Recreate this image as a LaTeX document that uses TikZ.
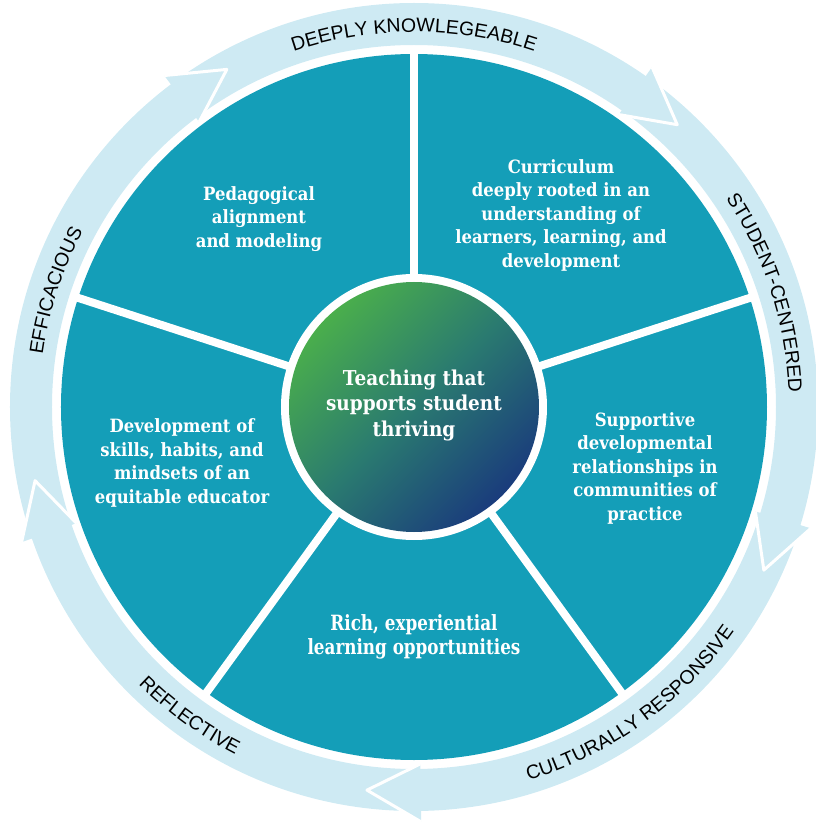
\documentclass[tikz,border=0pt]{standalone}
\usepackage{fontspec}
\usetikzlibrary{decorations.text}
\newfontfamily\segfont[FakeStretch=0.9]{DejaVu Serif}
\newfontfamily\richfont[FakeStretch=0.8]{DejaVu Serif}
\newfontfamily\ringfont{Liberation Sans}
\definecolor{wheelteal}{HTML}{149EB8}
\definecolor{ringblue}{HTML}{CEEAF3}
\definecolor{coregreen}{HTML}{4AAE4C}
\definecolor{coremid}{HTML}{2A7A70}
\definecolor{coreblue}{HTML}{1A3C7C}
\edef\rD{353}
\edef\rC{133}
\edef\rS{125}
\edef\rI{362}
\edef\rO{404}
\edef\rM{\fpeval{(\rI+\rO)/2}}
\edef\rW{\fpeval{\rO-\rI}}
\edef\bIn{\fpeval{\rM-8}}
\edef\bOut{\fpeval{\rM+8}}
\tikzset{
  seg/.style={text=white, align=center, font=\segfont\bfseries\fontsize{18.3}{23.5}\selectfont},
  rich/.style={text=white, align=center, font=\richfont\bfseries\fontsize{21}{24}\selectfont},
  core/.style={text=white, align=center, font=\segfont\bfseries\fontsize{20.5}{25.5}\selectfont},
}
\newcommand\lbl{\ringfont\fontsize{19.5}{20}\selectfont\color{black}}

\begin{document}
\begin{tikzpicture}[x=1pt,y=1pt]
  \useasboundingbox (-414,-418) rectangle (401,407);

  % draw the ring
  \draw[ringblue, line width=\rW pt] (0,0) circle[radius=\rM];

  % draw the arrow heads
  \foreach \a in {127,55,-17,-89,-161} {
    \fill[ringblue] (\a:357) -- (\a:415) -- (\a-8:386) -- cycle;
    \draw[white, line width=3pt, line join=round] (\a:415) -- (\a-8:386) -- (\a:357);
  }

  % draw the wheel
  \fill[wheelteal] (0,0) circle[radius=\rD];
  \foreach \a in {90,162,234,306,18}
    \draw[white, line width=8pt] (0,0) -- (\a:360);

  % draw the core
  \fill[white] (0,0) circle[radius=\rC];
  \shade[top color=coregreen, bottom color=coreblue, middle color=coremid, shading angle=45]
    (0,0) circle[radius=\rS];

  % label the sectors
  \node[seg] (ped) at (-155,188) {Pedagogical\\alignment\\and modeling};
  \node[seg] (cur) at (147,192) {Curriculum\\deeply rooted in an\\understanding of\\learners, learning, and\\development};
  \node[seg] (sup) at (231,-61) {Supportive\\developmental\\relationships in\\communities of\\practice};
  \node[rich] (rich) at (0,-230) {Rich, experiential\\learning opportunities};
  \node[seg] (dev) at (-232,-56) {Development of\\skills, habits, and\\mindsets of an\\equitable educator};
  \node[core] (core) at (0,2) {Teaching that\\supports student\\thriving};

  % label the ring
  \path[decorate, decoration={text along path, text align=center,
    text={|\lbl|DEEPLY KNOWLEGEABLE}}]
    (130:\bIn) arc[start angle=130, end angle=50, radius=\bIn];
  \path[decorate, decoration={text along path, text align=center,
    text={|\lbl|STUDENT-CENTERED}}]
    (58:\bIn) arc[start angle=58, end angle=-22, radius=\bIn];
  \path[decorate, decoration={text along path, text align=center,
    text={|\lbl|CULTURALLY RESPONSIVE}}]
    (266:\bOut) arc[start angle=266, end angle=346, radius=\bOut];
  \path[decorate, decoration={text along path, text align=center,
    text={|\lbl|REFLECTIVE}}]
    (194:\bOut) arc[start angle=194, end angle=274, radius=\bOut];
  \path[decorate, decoration={text along path, text align=center,
    text={|\lbl|EFFICACIOUS}}]
    (202:\bIn) arc[start angle=202, end angle=122, radius=\bIn];
\end{tikzpicture}
\end{document}
